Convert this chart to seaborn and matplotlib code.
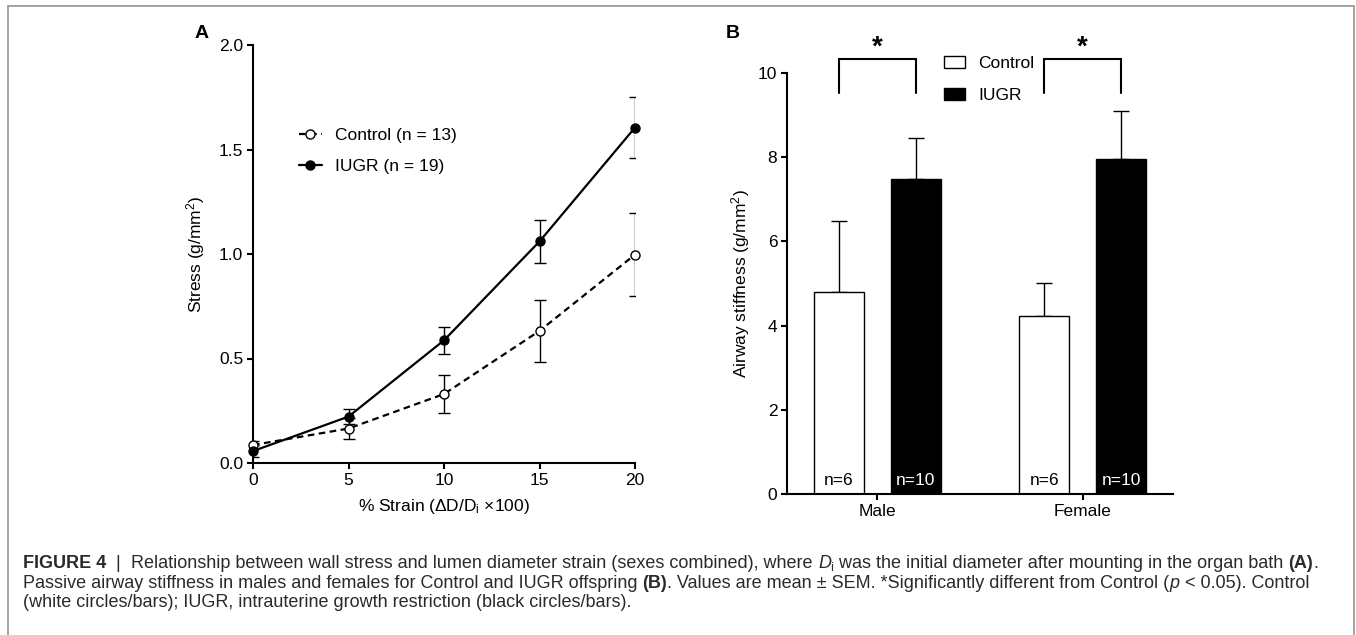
import numpy as np
import pandas as pd
import matplotlib
matplotlib.use("Agg")
import matplotlib.pyplot as plt
import seaborn as sns
from matplotlib.patches import Patch
from matplotlib.lines import Line2D
from matplotlib import font_manager

# ---------------- data ----------------
strain = [0, 5, 10, 15, 20]
control_stress = [0.086, 0.165, 0.330, 0.632, 0.997]
control_sem = [0.020, 0.050, 0.093, 0.148, 0.198]
iugr_stress = [0.057, 0.222, 0.587, 1.060, 1.605]
iugr_sem = [0.030, 0.036, 0.065, 0.103, 0.146]
groups = ["Control", "IUGR"]
n_panel_a = [13, 19]

sexes = ["Male", "Female"]
control_stiff = [4.80, 4.22]
control_stiff_sem = [1.69, 0.80]
iugr_stiff = [7.48, 7.95]
iugr_stiff_sem = [0.97, 1.15]
n_control = [6, 6]
n_iugr = [10, 10]

W, H = 1356, 635

sns.set_theme(style="ticks", rc={
    "axes.edgecolor": "black", "text.color": "black",
    "xtick.color": "black", "ytick.color": "black",
    "axes.labelcolor": "black", "axes.linewidth": 1.5,
    "xtick.major.width": 1.5, "ytick.major.width": 1.5,
    "xtick.major.size": 4, "ytick.major.size": 4,
})
plt.rcParams["font.family"] = ["Liberation Sans", "DejaVu Sans"]
plt.rcParams["mathtext.fontset"] = "custom"
plt.rcParams["mathtext.rm"] = "Liberation Sans"
plt.rcParams["mathtext.it"] = "Liberation Sans:italic"
plt.rcParams["mathtext.bf"] = "Liberation Sans:bold"

FS = 12.5

fig = plt.figure(figsize=(W / 100, H / 100), dpi=100)
axA = fig.add_axes([253 / W, 1 - 463 / H, 382 / W, 418 / H])
axB = fig.add_axes([787 / W, 1 - 494 / H, 386 / W, 421 / H])

# ---------------- panel A ----------------
dfA = pd.DataFrame({
    "strain": strain * 2,
    "stress": control_stress + iugr_stress,
    "err": control_sem + iugr_sem,
    "group": [groups[0]] * len(strain) + [groups[1]] * len(strain),
})
dc = dfA[dfA.group == "Control"]
di = dfA[dfA.group == "IUGR"]

axA.errorbar(dc["strain"], dc["stress"], yerr=dc["err"], fmt="none", ecolor="black",
             elinewidth=1, capsize=4, capthick=1, zorder=2)
axA.errorbar(di["strain"], di["stress"], yerr=di["err"], fmt="none", ecolor="black",
             elinewidth=1, capsize=4, capthick=1, zorder=2)
sns.lineplot(data=dc, x="strain", y="stress", ax=axA, color="black",
             linestyle=(0, (3, 2)), lw=1.6, marker="o", markersize=6.5,
             markerfacecolor="white", markeredgecolor="black",
             markeredgewidth=1, errorbar=None, legend=False, zorder=3, clip_on=False)
sns.lineplot(data=di, x="strain", y="stress", ax=axA, color="black",
             linestyle="-", lw=1.6, marker="o", markersize=6.5,
             markerfacecolor="black", markeredgecolor="black",
             markeredgewidth=1, errorbar=None, legend=False, zorder=4, clip_on=False)

axA.set_xlim(0, 20)
axA.set_ylim(0, 2.0)
axA.set_xticks([0, 5, 10, 15, 20])
axA.set_yticks([0, 0.5, 1.0, 1.5, 2.0])
axA.set_yticklabels(["0.0", "0.5", "1.0", "1.5", "2.0"])
axA.tick_params(labelsize=FS, pad=3)
axA.set_xlabel(r"% Strain (ΔD/D$_\mathrm{i}$ ×100)", fontsize=FS, labelpad=7)
axA.set_ylabel(r"Stress (g/mm$^2$)", fontsize=FS)
axA.yaxis.set_label_coords(-0.12, 0.5)
sns.despine(ax=axA)

hA = [Line2D([], [], color="black", linestyle=(0, (3, 2)), lw=1.6, marker="o",
             markersize=6.5, markerfacecolor="white", markeredgewidth=1),
      Line2D([], [], color="black", linestyle="-", lw=1.6, marker="o",
             markersize=6.5, markerfacecolor="black", markeredgewidth=1)]
axA.legend(hA, [f"{g} (n = {n})" for g, n in zip(groups, n_panel_a)],
           loc="upper left", bbox_to_anchor=(290 / W, 1 - 119 / H),
           bbox_transform=fig.transFigure, frameon=False, fontsize=FS,
           handlelength=1.35, handletextpad=0.75, labelspacing=0.9, borderpad=0)

# ---------------- panel B ----------------
dfB = pd.DataFrame({
    "sex": sexes * 2,
    "stiff": control_stiff + iugr_stiff,
    "err": control_stiff_sem + iugr_stiff_sem,
    "n": n_control + n_iugr,
    "group": [groups[0]] * 2 + [groups[1]] * 2,
})
sns.barplot(data=dfB, x="sex", y="stiff", hue="group", order=sexes,
            hue_order=groups, palette={"Control": "white", "IUGR": "black"},
            edgecolor="black", linewidth=1, width=0.75, gap=0.35,
            errorbar=None, legend=False, ax=axB, zorder=2)

txtcol = {"Control": "black", "IUGR": "white"}
centers = {}
for cont, g in zip(axB.containers, groups):
    sub = dfB[dfB.group == g].set_index("sex").loc[sexes]
    xs = [p.get_x() + p.get_width() / 2 for p in cont.patches]
    centers[g] = xs
    axB.errorbar(xs, sub["stiff"], yerr=[np.zeros(len(xs)), sub["err"].values], fmt="none",
                 ecolor="black", elinewidth=1, capsize=5.5, capthick=1, zorder=1)
    for x, n in zip(xs, sub["n"]):
        axB.text(x, 0.33, f"n={n}", ha="center", va="center", fontsize=FS,
                 color=txtcol[g], zorder=5)

for i in range(len(sexes)):
    x1, x2 = centers["Control"][i], centers["IUGR"][i]
    axB.plot([x1, x1, x2, x2], [9.53, 10.33, 10.33, 9.53], color="black",
             lw=1.5, clip_on=False, solid_joinstyle="miter")
    axB.text((x1 + x2) / 2, 10.6, "*", ha="center", va="center", fontsize=20,
             fontweight="bold", clip_on=False)

axB.set_xlim(-0.44, 1.44)
axB.set_ylim(0, 10)
axB.set_yticks([0, 2, 4, 6, 8, 10])
axB.tick_params(labelsize=FS, pad=3)
axB.set_xlabel("")
axB.set_ylabel(r"Airway stiffness (g/mm$^2$)", fontsize=FS)
axB.yaxis.set_label_coords(-0.09, 0.5)
sns.despine(ax=axB)

hB = [Patch(facecolor="white", edgecolor="black", lw=1),
      Patch(facecolor="black", edgecolor="black", lw=1)]
axB.legend(hB, groups, loc="upper left", bbox_to_anchor=(935 / W, 1 - 47 / H),
           bbox_transform=fig.transFigure, frameon=False, fontsize=FS,
           handlelength=1.2, handleheight=0.7, handletextpad=0.8,
           labelspacing=0.98, borderpad=0)

# panel letters
fig.text(202 / W, 1 - 33 / H, "A", fontsize=14, fontweight="bold", ha="center", va="center")
fig.text(733 / W, 1 - 33 / H, "B", fontsize=14, fontweight="bold", ha="center", va="center")

# border
bc = "#a3a3a3"
fig.add_artist(Line2D([8 / W, 1354 / W], [1 - 6 / H, 1 - 6 / H], transform=fig.transFigure, color=bc, lw=1.4))
fig.add_artist(Line2D([8 / W, 8 / W], [0, 1 - 6 / H], transform=fig.transFigure, color=bc, lw=1.4))
fig.add_artist(Line2D([1354 / W, 1354 / W], [0, 1 - 6 / H], transform=fig.transFigure, color=bc, lw=1.4))

# ---------------- caption ----------------
names = {f.name for f in font_manager.fontManager.ttflist}
CAP = "Liberation Sans Narrow" if "Liberation Sans Narrow" in names else "Liberation Sans"
CAPCOL = "#2a2a2a"

lines = [
    [("FIGURE 4", "b"), ("  |  ", "n"),
     ("Relationship between wall stress and lumen diameter strain (sexes combined), where ", "n"),
     (r"$\mathit{D}_\mathrm{i}$", "n"),
     (" was the initial diameter after mounting in the organ bath ", "n"), ("(A)", "b"), (".", "n")],
    [("Passive airway stiffness in males and females for Control and IUGR offspring ", "n"),
     ("(B)", "b"), (". Values are mean ± SEM. *Significantly different from Control (", "n"),
     ("p", "i"), (" < 0.05). Control", "n")],
    [("(white circles/bars); IUGR, intrauterine growth restriction (black circles/bars).", "n")],
]
line_y = [568, 588, 607]

renderer = fig.canvas.get_renderer()


def kws(style, size):
    k = dict(fontsize=size, color=CAPCOL, family=[CAP, "DejaVu Sans"], va="baseline")
    if style == "b":
        k["fontweight"] = "bold"
    if style == "i":
        k["fontstyle"] = "italic"
    return k


def seg_width(txt, style, size):
    t1 = fig.text(0, 0, "|" + txt + "|", **kws(style, size))
    t2 = fig.text(0, 0, "||", **kws(style, size))
    w = t1.get_window_extent(renderer).width - t2.get_window_extent(renderer).width
    t1.remove()
    t2.remove()
    return w


base = 12.0
w1 = sum(seg_width(t, s, base) for t, s in lines[0])
size = base * (1292 / w1)
size = min(size, 13.5)

for segs, yp in zip(lines, line_y):
    x = 23
    for txt, st in segs:
        fig.text(x / W, 1 - yp / H, txt, **kws(st, size))
        x += seg_width(txt, st, size)

fig.savefig("out.png", dpi=100)
